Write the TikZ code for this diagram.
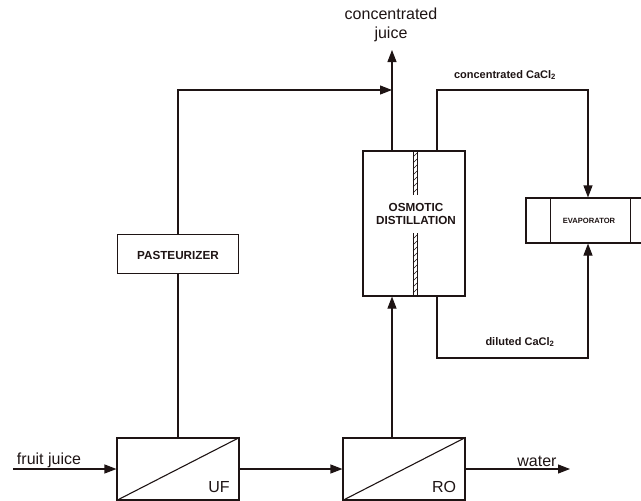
\documentclass[tikz,border=0pt]{standalone}
\usepackage{fontspec}
\setmainfont{Liberation Sans}
\usetikzlibrary{arrows.meta}
\definecolor{ink}{RGB}{30,20,20}
\begin{document}
\begin{tikzpicture}[x=1pt,y=-1pt, line width=1.1pt, draw=ink,
  box/.style={draw=ink, rectangle, inner sep=0pt},
  arr/.style={-{Triangle[length=12pt,width=9pt]}},
  biglbl/.style={font=\fontsize{16}{19}\selectfont, inner sep=0pt, text=ink},
  boxlbl/.style={font=\bfseries\fontsize{11.7}{13.5}\selectfont, inner sep=0pt, text=ink, align=center},
  smalllbl/.style={font=\bfseries\fontsize{11}{13}\selectfont, inner sep=0pt, text=ink},
  memb/.style={line width=0.6pt}]
\useasboundingbox (0,0) rectangle (641,501);
\clip (0,0) rectangle (641,501);

% boxes
\node[box, minimum width=122pt, minimum height=62pt] (uf) at (178,469) {};
\node[box, minimum width=122pt, minimum height=62pt] (ro) at (404,469) {};
\node[box, minimum width=121pt, minimum height=39pt] (past) at (178,254) {};
\node[box, minimum width=102pt, minimum height=145pt] (od) at (414,223.5) {};
\node[box, minimum width=120pt, minimum height=45pt] (evap) at (586,220.5) {};

% inner drawing of boxes
\draw (uf.south west) -- (uf.north east);
\draw (ro.south west) -- (ro.north east);
\draw ([xshift=25pt]evap.north west) -- ([xshift=25pt]evap.south west);
\draw ([xshift=105pt]evap.north west) -- ([xshift=105pt]evap.south west);

% membrane of osmotic distillation
\foreach \ya/\yb in {151/195, 233/296}{
  \draw[memb] (413,\ya) -- (413,\yb);
  \draw[memb] (417,\ya) -- (417,\yb);
}
\foreach \y in {157,163,...,193}{ \draw[memb] (413,\y) -- (417,\y-4); }
\foreach \y in {239,245,...,293}{ \draw[memb] (413,\y) -- (417,\y-4); }

% box labels
\node[biglbl] (uft) at (219,487) {UF};
\node[biglbl] (rot) at (444,487) {RO};
\node[boxlbl] (pastt) at (178,255) {PASTEURIZER};
\node[boxlbl] (odt) at (416,214) {OSMOTIC\\DISTILLATION};
\node[boxlbl, font=\bfseries\fontsize{7.6}{9}\selectfont] (evapt) at (589,221) {EVAPORATOR};

% stream labels
\node[biglbl, align=center] (cjt) at (391,25) {concentrated\\juice};
\node[biglbl] (fjt) at (49,460) {fruit juice};
\node[biglbl] (wtt) at (537,461) {water};
\node[smalllbl] (cct) at (505,75) {concentrated CaCl\textsubscript{2}};
\node[smalllbl] (dct) at (520,342) {diluted CaCl\textsubscript{2}};

% connector coordinates
\coordinate (fj) at (13,469);
\coordinate (wt) at (570,469);
\coordinate (jn) at (392,90);
\coordinate (cj) at (392,50);
\coordinate (c1) at (437,90);
\coordinate (c2) at (588,90);
\coordinate (d1) at (437,358);
\coordinate (d2) at (588,358);

% connectors
\draw[arr] (fj) -- (uf.west);
\draw[arr] (uf.east) -- (ro.west);
\draw[arr] (ro.east) -- (wt);
\draw (uf.north) -- (past.south);
\draw[arr] (past.north) |- (jn);
\draw[arr] (ro.north -| jn) -- (od.south -| jn);
\draw[arr] (od.north -| cj) -- (cj);
\draw[arr] (od.north -| c1) -- (c1) -- (c2) -- (evap.north -| c2);
\draw[arr] (od.south -| d1) -- (d1) -- (d2) -- (evap.south -| d2);
\end{tikzpicture}
\end{document}
